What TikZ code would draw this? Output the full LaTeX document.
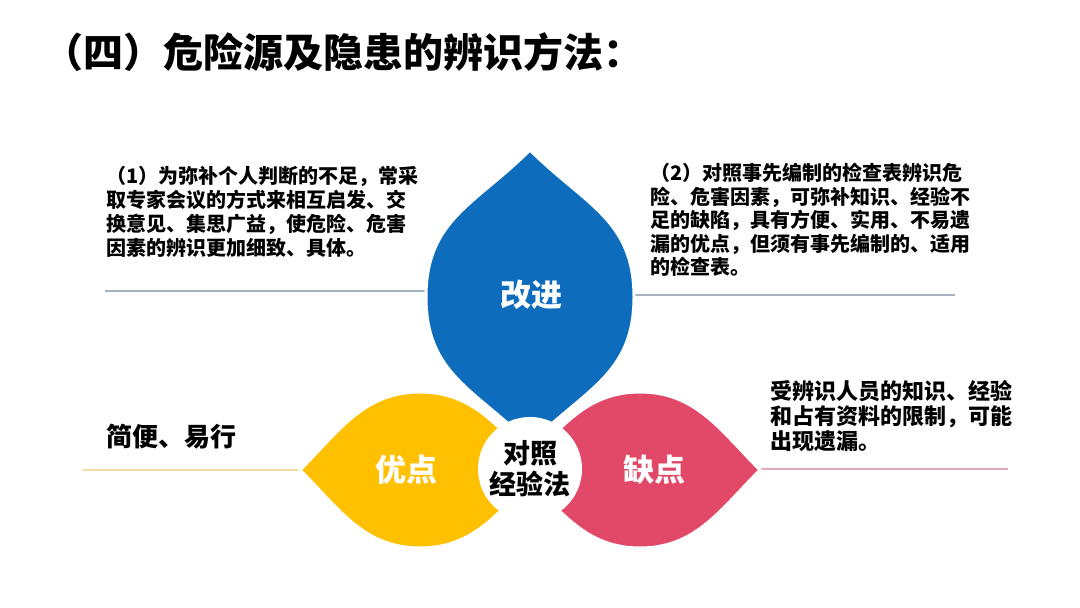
\documentclass[tikz,border=0pt]{standalone}
\usepackage{fontspec}
\setmainfont{Noto Sans CJK SC}

\definecolor{bleu}{RGB}{14,108,188}
\definecolor{jaune}{RGB}{255,192,0}
\definecolor{rouge}{RGB}{226,72,104}
\definecolor{trait}{RGB}{165,178,192}
\definecolor{traitjaune}{RGB}{242,222,160}
\definecolor{traitrouge}{RGB}{222,172,184}

\tikzset{
  petale/.style={draw=white, line width=3pt},
  etiquette/.style={text=white, inner sep=0pt, font=\bfseries\fontsize{31}{31}\selectfont},
  texte/.style={anchor=north west, inner sep=0pt, align=left},
}

\begin{document}
\begin{tikzpicture}[x=1pt,y=1pt]
\useasboundingbox (0,0) rectangle (1080,608);
\fill[white] (0,0) rectangle (1080,608);

% Titre
\node[anchor=west, inner sep=0pt, font=\bfseries\fontsize{40}{40}\selectfont]
(titre) at (43,556) {（四）危险源及隐患的辨识方法：};

% Traits
\coordinate (t1a) at (105,317);
\coordinate (t1b) at (440,317);
\coordinate (t2a) at (620,313);
\coordinate (t2b) at (955,313);
\coordinate (t3a) at (83,138);
\coordinate (t3b) at (310,138);
\coordinate (t4a) at (750,139);
\coordinate (t4b) at (1008,139);
\draw[trait, line width=1.5pt] (t1a) -- (t1b);
\draw[trait, line width=1.5pt] (t2a) -- (t2b);
\draw[traitjaune, line width=1.5pt] (t3a) -- (t3b);
\draw[traitrouge, line width=1.5pt] (t4a) -- (t4b);

% Pétale bleu
\coordinate (bH) at (530,458);
\coordinate (bG) at (426,311);
\coordinate (bB) at (530,164);
\coordinate (bD) at (634,311);
\fill[bleu, petale]
(bH) to[out=225,in=90,looseness=1.1] (bG)
to[out=270,in=135,looseness=1.1] (bB)
to[out=45,in=270,looseness=1.1] (bD)
to[out=90,in=315,looseness=1.1] cycle;

% Pétale jaune
\coordinate (jG) at (300,138);
\coordinate (jH) at (420,216);
\coordinate (jD) at (540,138);
\coordinate (jB) at (420,60);
\fill[jaune, petale]
(jG) to[out=45,in=180] (jH)
to[out=0,in=135] (jD)
to[out=225,in=0] (jB)
to[out=180,in=315] cycle;

% Pétale rouge
\coordinate (rG) at (520,138);
\coordinate (rH) at (640,216);
\coordinate (rD) at (760,138);
\coordinate (rB) at (640,60);
\fill[rouge, petale]
(rG) to[out=45,in=180] (rH)
to[out=0,in=135] (rD)
to[out=225,in=0] (rB)
to[out=180,in=315] cycle;

% Centre
\node[circle, fill=white, minimum size=104pt, inner sep=0pt, align=center,
font=\bfseries\fontsize{27}{31}\selectfont]
(centre) at (530,139) {对照\\经验法};

% Légendes
\node[etiquette] (gaijin) at (531,313) {改进};
\node[etiquette] (youdian) at (406,138) {优点};
\node[etiquette] (quedian) at (654,138) {缺点};

% Textes
\node[texte, font=\bfseries\fontsize{20}{24}\selectfont]
(texte1) at (106,442)
{（1）为弥补个人判断的不足，常采\\
取专家会议的方式来相互启发、交\\
换意见、集思广益，使危险、危害\\
因素的辨识更加细致、具体。};

\node[texte, font=\bfseries\fontsize{20}{23.5}\selectfont]
(texte2) at (650,445)
{（2）对照事先编制的检查表辨识危\\
险、危害因素，可弥补知识、经验不\\
足的缺陷，具有方便、实用、不易遗\\
漏的优点，但须有事先编制的、适用\\
的检查表。};

\node[texte, font=\bfseries\fontsize{22}{25}\selectfont]
(texte3) at (770,228)
{受辨识人员的知识、经验\\
和占有资料的限制，可能\\
出现遗漏。};

\node[anchor=west, inner sep=0pt, font=\bfseries\fontsize{26}{26}\selectfont]
(texte4) at (106,171) {简便、易行};

\end{tikzpicture}
\end{document}
